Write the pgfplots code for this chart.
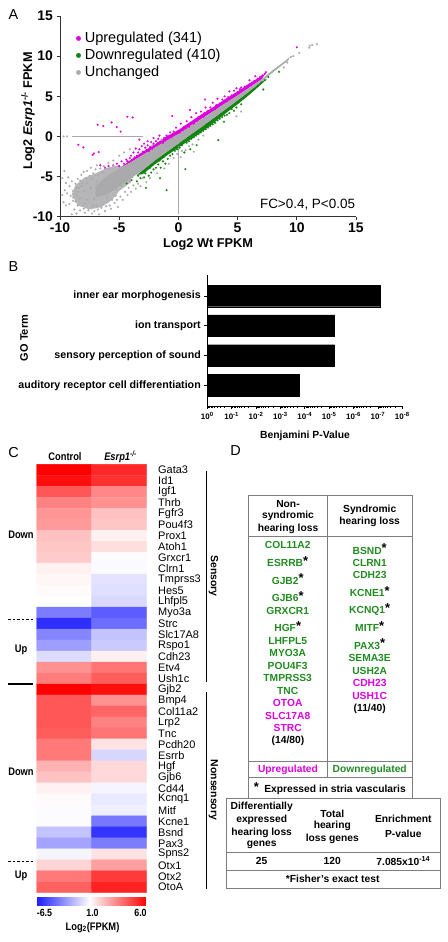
\documentclass[border=0pt]{standalone}
\usepackage{pgfplots}
\usepackage{pgfplotstable}
\usepackage{fontspec}
\setmainfont{Liberation Sans}
\pgfplotsset{compat=1.18}
\newcommand{\fs}[1]{\fontsize{#1}{#1}\selectfont}
\definecolor{mag}{RGB}{222,0,222}
\definecolor{grn}{RGB}{18,132,18}
\definecolor{gtx}{RGB}{34,139,34}
\definecolor{gry}{RGB}{170,170,173}
\definecolor{gryl}{RGB}{182,182,185}
\definecolor{tbl}{RGB}{125,125,125}
\newcommand{\st}{{\color{black}\raisebox{1.5pt}{\fs{13}*}}}

\pgfplotstableread{
x y v
0 0 6.0
1 0 5.2
0 1 5.7
1 1 5.0
0 2 4.2
1 2 3.2
0 3 3.3
1 3 3.0
0 4 2.9
1 4 2.0
0 5 2.8
1 5 1.9
0 6 2.0
1 6 1.0
0 7 1.9
1 7 1.4
0 8 1.8
1 8 0.6
0 9 1.0
1 9 0.55
0 10 0.9
1 10 -0.2
0 11 0.8
1 11 -0.3
0 12 0.7
1 12 -0.5
0 13 -3.5
1 13 -4.5
0 14 -6.0
1 14 -4.0
0 15 -3.2
1 15 -1.2
0 16 -2.4
1 16 -1.0
0 17 -0.4
1 17 1.0
0 18 3.0
1 18 3.6
0 19 3.4
1 19 4.1
0 20 6.0
1 20 5.7
0 21 4.2
1 21 3.0
0 22 4.2
1 22 3.9
0 23 4.2
1 23 3.3
0 24 4.1
1 24 3.6
0 25 3.5
1 25 1.3
0 26 3.5
1 26 -0.6
0 27 2.3
1 27 1.5
0 28 2.0
1 28 1.5
0 29 1.0
1 29 0.4
0 30 0.8
1 30 0.0
0 31 0.6
1 31 0.2
0 32 0.6
1 32 -3.6
0 33 -1.2
1 33 -5.8
0 34 -2.2
1 34 -3.5
0 35 0.4
1 35 1.3
0 36 1.6
1 36 2.7
0 37 3.5
1 37 4.8
0 38 4.0
1 38 5.3
}\heatdata

\pgfplotsset{
 colormap={hm}{[1pt] rgb255(0pt)=(30,30,255) rgb255(75pt)=(255,255,255) rgb255(130pt)=(255,0,0)},
 pt/.style={only marks,mark=*,mark size=0.95bp,color=#1,mark options={draw=#1,fill=#1,line width=0.2bp}},
}
\begin{document}
\begin{tikzpicture}
\path[use as bounding box] (0,-942bp) rectangle (448bp,0);

%% Panel A
\begin{axis}[
 at={(60bp,-216.7bp)},anchor=south west,scale only axis,width=296bp,height=200.7bp,
 xmin=-10,xmax=15,ymin=-10,ymax=15,
 axis lines=left,axis line style={-,line width=1pt,color=black!80},
 tick style={line width=1pt,color=black!80},tick align=outside,major tick length=3.5bp,
 xtick={-10,-5,0,5,10,15},ytick={-10,-5,0,5,10,15},
 xticklabels={-10,-5,0,5,10,15},yticklabels={-10,-5,0,5,10,15},
 ticklabel style={font=\fs{14}\bfseries},
 x tick label style={yshift=1bp},
 legend style={at={(16bp,186.5bp)},anchor=north west,draw=none,fill=none,font=\fs{14.6},
   row sep=1bp,inner sep=0pt},
 legend cell align=left,
 legend image post style={mark size=2.3bp},
]
\addplot[forget plot,draw=none,fill=mag] coordinates {(-5,-4)(-4,-2.9)(-3,-1.9)(-2,-1.0)(-1,0)(0,0.8)(1,1.8)(2,2.8)(3,3.7)(4,4.7)(5,5.6)(6,6.6)(7,7.5)(7.4,7.9)(7,7.1)(5,5.1)(3,3.2)(1,1.3)(0,0.3)(-2,-1.4)(-4,-3.2)} --cycle;
\addplot[forget plot,draw=none,fill=grn] coordinates {(-3.5,-4.8)(-3,-4.7)(-2,-3.5)(-1,-2.4)(0,-1.4)(1,-0.4)(2,0.6)(3,1.7)(4,2.9)(5,4.0)(6,5.2)(7,6.5)(7.5,7.2)(7,6.8)(5,4.5)(3,2.3)(1,0.2)(0,-0.9)(-2,-3.0)} --cycle;
\addplot[pt=mag] coordinates {
(-4.31,2.45)(-3.86,2.36)(-6.82,1.45)(-5.64,1.74)(-6.34,1.29)(-5.21,1.16)(-4.88,0.6)(-8.45,-1.04)(-8.03,-1.37)(-7.13,-2.12)(-6.73,-1.95)(-7.24,-2.3)(10,11.1)
(-6.6,-3.6)(-6.2,-3.9)(-5.9,-3.7)(-5.5,-3.6)(-5.2,-3.4)(-5.0,-3.7)(-4.8,-3.1)(-4.6,-3.4)(-4.4,-2.9)(-4.3,-3.1)(-4.1,-2.7)(-4.0,-2.4)(-3.9,-2.9)(-3.8,-2.0)(-3.7,-2.6)(-3.6,-1.5)(-3.5,-2.4)(-3.4,-2.0)(-3.3,-0.4)(-3.3,-1.6)(-3.2,-2.2)(-3.1,-1.2)(-3.0,-1.9)(-2.9,-0.9)(-2.9,-2.0)(-2.8,-1.4)(-2.7,-1.7)(-2.6,-0.6)(-2.6,-1.1)(-2.5,-1.8)(-2.4,-1.3)(-2.3,-0.7)(-2.2,-1.5)(-2.1,-0.9)(-2.1,-0.2)(-2,-1.2)(-1.9,-0.6)(-1.8,-1.1)(-1.7,-0.8)(-1.7,-0.3)(-1.6,0.1)(-1.5,-0.7)(-1.4,-0.4)(-1.3,-0.8)(-1.2,-0.2)(-1.1,-0.5)(-1,0.1)(-0.9,-0.3)(-0.8,0.0)(-0.7,0.5)(-0.6,-0.1)(-0.51,2.54)(-0.5,0.2)(-0.4,0.6)(-0.3,0.3)(-0.2,1.1)(-0.1,0.4)(0,0.7)(0.1,0.5)(0.2,1.6)(0.3,0.9)(0.4,0.8)(0.5,1.2)(0.6,1.0)(0.7,1.9)(0.8,1.3)(0.9,1.2)(0.98,3.3)(1,1.6)(1.1,2.4)
(1.2,1.7)(1.3,1.6)(1.4,2.0)(1.5,2.9)(1.6,2.0)(1.7,2.4)(1.8,2.2)(1.9,3.1)(2,2.5)(2.1,2.4)(2.2,2.9)(2.25,4.6)(2.3,3.6)(2.4,2.8)(2.5,3.2)(2.6,3.0)(2.7,3.6)(2.8,3.2)(2.9,4.2)(3,3.5)(3.1,3.4)(3.2,3.9)(3.3,4.7)(3.4,3.8)(3.5,4.1)(3.6,4.0)(3.7,4.6)(3.8,4.2)(3.9,5.0)(4,4.5)(4.1,4.4)(4.2,4.9)(4.3,5.6)(4.4,4.8)(4.5,5.1)(4.6,5.0)(4.7,5.7)(4.8,5.2)(4.9,6.0)(5,5.5)(5.1,5.4)(5.2,5.9)(5.3,6.1)(5.4,5.8)(5.6,6.2)(5.8,6.3)(6,6.5)(6.0,7.0)(6.2,6.7)(6.4,6.9)(6.5,7.5)(6.7,7.2)(6.9,7.4)(7.1,7.6)(7.3,7.8)(7.4,8.0)
};
\addlegendentry{\hspace{2bp}Upregulated (341)}
\addplot[pt=grn] coordinates {
(-1.0,-6.7)(0.59,-4.07)(-1.55,-5.2)(-2.74,-6.4)(3.37,-0.46)(3.85,1.83)(7.17,5.85)(8.5,8.05)(1.54,-1.08)(-4.37,-5.85)(-3.95,-5.44)(-3.5,-5.6)(-3.4,-4.9)(-3.2,-5.2)(-3.0,-4.4)(-2.9,-5.1)(-2.8,-4.6)(-2.6,-4.0)(-2.5,-4.9)(-2.4,-3.9)(-2.3,-4.5)(-2.2,-3.5)(-2.1,-4.1)(-2.0,-3.3)(-1.9,-3.9)(-1.8,-3.1)(-1.7,-3.5)(-1.6,-3.0)(-1.5,-3.9)(-1.4,-2.7)(-1.3,-3.1)(-1.2,-2.5)(-1.1,-3.4)(-1.0,-2.2)(-0.9,-2.8)(-0.8,-2.0)(-0.7,-2.4)(-0.6,-1.8)(-0.5,-2.2)(-0.4,-1.5)(-0.3,-1.8)(-0.2,-1.3)(-0.1,-1.6)(0,-1.1)(0.1,-1.4)(0.2,-0.8)(0.3,-1.1)(0.4,-0.6)(0.5,-2.0)(0.6,-0.5)(0.7,-0.8)(0.8,-0.2)(0.9,-0.6)(1,0.0)(1.0,-1.6)(1.1,-0.3)(1.2,0.2)(1.3,-0.1)(1.4,0.4)(1.5,0.1)(1.6,0.6)(1.7,0.3)(1.8,0.8)(1.9,0.5)(2,1.0)(2.1,0.7)(2.2,1.2)(2.3,0.9)(2.4,1.5)(2.5,1.1)(2.6,1.7)(2.7,1.3)(2.8,1.9)(2.9,1.5)(3,2.1)(3.1,1.7)(3.2,2.3)(3.3,2.0)(3.4,2.5)(3.5,2.2)(3.6,2.8)(3.7,2.4)(3.8,3.0)(3.9,2.6)(4,3.2)(4.1,2.7)(4.2,3.4)(4.3,2.9)(4.4,3.6)(4.5,3.4)(4.6,3.8)(4.7,3.2)(4.8,4.0)(4.9,3.6)(5,4.3)(5.2,4.5)(5.3,4.0)(5.4,4.7)(5.6,4.9)(5.8,5.2)(6,5.4)(6.2,5.7)(6.4,5.9)(6.7,6.3)(7.0,6.7)(7.3,7.0)(7.6,7.4)
};
\addlegendentry{\hspace{2bp}Downregulated (410)}
\addplot[forget plot,draw=none,fill=gryl] coordinates {(-9,-7.2)(-8.7,-6.1)(-8,-5.2)(-7,-4.6)(-6,-3.9)(-5,-3.6)(-4,-4.5)(-4,-5.7)(-5,-6.8)(-5.6,-7.9)(-6.5,-8.8)(-7.5,-9.1)(-8.5,-8.6)} --cycle;
\addplot[forget plot,draw=none,fill=gry] coordinates {(-7,-6.2)(-6,-4.9)(-5,-4)(-4,-3.2)(-3,-2.3)(-2,-1.4)(-1,-0.5)(0,0.3)(1,1.3)(2,2.2)(3,3.2)(4,4.2)(5,5.1)(6,6.1)(7,7.1)(8,8.3)(9,9.4)(9.4,9.9)(9.3,9.5)(8,8)(7,6.8)(6,5.6)(5,4.5)(4,3.4)(3,2.3)(2,1.2)(1,0.2)(0,-0.9)(-1,-1.9)(-2,-3.0)(-3,-4.2)(-4,-5.2)(-5,-6.2)(-6,-7.2)(-7,-7.6)} --cycle;
\addplot[pt=gry] coordinates {
(-9.7,0)(-9.4,0)(-9.63,-4.3)(-9.8,-5.2)(-9.5,-5.8)(-9.3,-5.1)(-9.6,-6.7)(-9.8,-7.3)(-9.4,-7.1)(-9.7,-8.2)(-9.2,-6.2)(-9.1,-7.4)(-9.5,-8.6)(-9.2,-8.4)(-9.0,-5.6)(-8.9,-6.8)(-8.9,-8.0)(-8.8,-9.1)(-8.7,-5.9)(-8.6,-7.3)(-8.5,-8.6)(-8.5,-5.3)(-8.4,-6.4)(-8.3,-7.7)(-8.3,-9.2)(-8.2,-4.8)(-8.1,-5.8)(-8.0,-9.0)(-8.0,-4.4)(-7.9,-9.5)(-7.8,-5.2)(-7.7,-4.3)(-7.6,-9.2)(-7.5,-4.9)(-7.4,-3.9)(-7.3,-9.6)(-7.2,-4.6)(-7.1,-9.3)(-7.0,-4.1)(-6.9,-3.6)(-6.8,-9.1)(-6.7,-9.7)(-6.6,-4.0)(-6.5,-8.9)(-6.3,-3.7)(-6.2,-9.3)(-6.1,-8.7)(-5.9,-3.3)(-5.8,-8.6)(-5.7,-9.0)(-5.5,-3.0)(-5.4,-8.3)(-5.2,-7.9)(-5.1,-8.8)(-5,-2.4)(-4.9,-7.5)(-4.7,-7.9)(-4.6,-2.0)(-4.5,-6.9)(-4.3,-7.3)(-4.2,-6.4)(-4.1,-1.6)(-4.0,-6.9)(-3.8,-6.1)(-3.6,-6.5)(-3.4,-5.9)(-3.2,-6.2)(-3.0,-5.2)(-2.7,-5.7)(-2.4,-5.2)(-2.2,-1.1)(-1.8,-4.6)(-1.4,-0.4)(-1.2,-4.0)(-0.8,-3.4)(-0.4,-2.7)(-0.1,-2.2)(0.2,-2.6)(0.3,-1.8)(0.6,-1.7)(0.9,-1.2)(1.2,-1.0)(1.3,-1.9)(1.7,-0.4)(2.1,0.1)(4.9,2.5)(5.3,3.1)
(-9.0,-9.7)(-7.2,-8.6)(-7.9,-8.4)(-8.6,-9.6)(-6.9,-8.6)(-6.4,-8.4)(-6.0,-8.2)(-5.6,-7.9)(-5.3,-7.4)(-8.7,-8.1)(-8.5,-6.9)(-8.2,-6.2)(-7.7,-5.8)(-7.3,-5.3)(-6.8,-4.8)(-6.4,-4.5)(-5.9,-4.0)(-5.5,-3.7)
(-8.9,-7.6)(-8.6,-6.4)(-8.3,-5.5)(-8.0,-6.8)(-7.7,-7.9)(-7.4,-6.4)(-7.1,-7.8)(-6.9,-5.6)(-6.6,-7.2)(-6.2,-6.3)(-6.0,-7.6)(-5.7,-5.4)(-5.3,-6.6)(-4.8,-6.1)(-4.4,-5.6)(-3.9,-5.1)
(10.2,10.4)(11.1,11.3)(11.3,11.4)(11.7,11.5)(11.05,11.05)(9.5,9.9)(9.7,10)(8.9,8.6)(9.2,9.2)
};
\addlegendentry{\hspace{2bp}Unchanged}
\addplot[forget plot,color=gry,line width=1.2bp] coordinates {(-9.0,0)(-3,0)};
\addplot[forget plot,color=gry,line width=1.2bp] coordinates {(0,-9.7)(0,-1)};
\end{axis}

%% Panel B
\begin{axis}[
 at={(207.3bp,-406bp)},anchor=south west,scale only axis,width=195bp,height=131bp,
 xmode=log,x dir=reverse,xmin=1e-8,xmax=1,ymin=-0.69,ymax=3.7,
 axis x line=bottom,axis y line=left,axis line style={-,line width=0.9pt},
 tick style={line width=0.7pt,color=black},tick align=outside,
 major tick length=3bp,minor tick length=1.5bp,
 xbar,bar width=21.7bp,bar shift=0pt,
 ytick={0,1,2,3},
 yticklabels={auditory receptor cell differentiation,sensory perception of sound,ion transport,inner ear morphogenesis},
 y tick label style={font=\fs{10.7}\bfseries},
 xtick={1,1e-1,1e-2,1e-3,1e-4,1e-5,1e-6,1e-7,1e-8},
 xticklabels={10\textsuperscript{0},10\textsuperscript{-1},10\textsuperscript{-2},10\textsuperscript{-3},10\textsuperscript{-4},10\textsuperscript{-5},10\textsuperscript{-6},10\textsuperscript{-7},10\textsuperscript{-8}},
 x tick label style={font=\fs{8}\bfseries},
 minor xtick={2e-1,3e-1,4e-1,5e-1,6e-1,7e-1,8e-1,9e-1,2e-2,3e-2,4e-2,5e-2,6e-2,7e-2,8e-2,9e-2,2e-3,3e-3,4e-3,5e-3,6e-3,7e-3,8e-3,9e-3,2e-4,3e-4,4e-4,5e-4,6e-4,7e-4,8e-4,9e-4,2e-5,3e-5,4e-5,5e-5,6e-5,7e-5,8e-5,9e-5,2e-6,3e-6,4e-6,5e-6,6e-6,7e-6,8e-6,9e-6,2e-7,3e-7,4e-7,5e-7,6e-7,7e-7,8e-7,9e-7,2e-8,3e-8,4e-8,5e-8,6e-8,7e-8,8e-8,9e-8},
]
\addplot[fill=black,draw=black] coordinates {(1.7e-4,0)(6e-6,1)(6e-6,2)(7.9e-8,3)};
\end{axis}

%% Panel C heat map
\begin{axis}[
 at={(36.7bp,-892.7bp)},anchor=south west,scale only axis,width=110bp,height=428.4bp,
 xmin=-0.5,xmax=1.5,ymin=-0.5,ymax=38.5,y dir=reverse,
 axis line style={draw=none},major tick length=0pt,tick style={draw=none},
 colormap name=hm,point meta min=-6.5,point meta max=6,
 xtick=\empty,
 ytick={0,...,38},
 yticklabel pos=right,
 yticklabels={Gata3,Id1,Igf1,Thrb,Fgfr3,Pou4f3,Prox1,Atoh1,Grxcr1,Clrn1,Tmprss3,Hes5,Lhfpl5,Myo3a,Strc,Slc17A8,Rspo1,Cdh23,Etv4,Ush1c,Gjb2,Bmp4,Col11a2,Lrp2,Tnc,Pcdh20,Esrrb,Hgf,Gjb6,Cd44,Kcnq1,Mitf,Kcne1,Bsnd,Pax3,Spns2,Otx1,Otx2,OtoA},
 y tick label style={font=\fs{11},anchor=west,xshift=8bp},
]
\addplot[matrix plot*,mesh/cols=2,point meta=explicit] table[x=x,y=y,meta=v]{\heatdata};
\end{axis}

%% colour bar
\begin{axis}[
 at={(36.7bp,-905bp)},anchor=south west,scale only axis,width=110bp,height=8.3bp,
 xmin=0,xmax=2,ymin=0,ymax=1,view={0}{90},
 hide axis,colormap name=hm,point meta min=-6.5,point meta max=6,
]
\addplot3[surf,shader=interp,mesh/cols=3] coordinates {
(0,0,-6.5)(1,0,1)(2,0,6)

(0,1,-6.5)(1,1,1)(2,1,6)
};
\end{axis}

%% annotations in image pixels
\begin{scope}[x=1bp,y=-1bp,every node/.style={inner sep=0pt,outer sep=0pt}]
% panel letters
\node[font=\fs{14.5}] at (13.5,14.5) {A};
\node[font=\fs{14.5}] at (13.5,267) {B};
\node[font=\fs{14.5}] at (13.5,453) {C};
\node[font=\fs{14.5}] at (235.5,451) {D};
% A
\node[font=\fs{12.7}\bfseries,rotate=90] at (28,111) {Log2 \textit{Esrp1}\textsuperscript{-/-} FPKM};
\node[font=\fs{12.8}\bfseries] at (208,244) {Log2 Wt FPKM};
\node[font=\fs{13.5},anchor=east] at (355,204.5) {FC>0.4, P<0.05};
% B
\node[font=\fs{11}\bfseries,rotate=90] at (24,338) {GO Term};
\node[font=\fs{10.4}\bfseries] at (305,435.7) {Benjamini P-Value};
% C
\begin{scope}[every node/.append style={xscale=.85,transform shape}]
\node[font=\fs{11}\bfseries] at (65,457) {Control};
\node[font=\fs{11}\bfseries\itshape] at (120.5,457) {Esrp1\textsuperscript{-/-}};
\node[font=\fs{11}\bfseries] at (21,535) {Down};
\node[font=\fs{11}\bfseries] at (21,650) {Up};
\node[font=\fs{11}\bfseries] at (21,771.7) {Down};
\node[font=\fs{11}\bfseries] at (21,876) {Up};
\node[font=\fs{10.5}\bfseries] at (44.5,912.7) {-6.5};
\node[font=\fs{10.5}\bfseries] at (92.5,912.7) {1.0};
\node[font=\fs{10.5}\bfseries] at (140.5,912.7) {6.0};
\node[font=\fs{11}\bfseries] at (92.5,927.5) {Log\textsubscript{2}(FPKM)};
\end{scope}
\draw[dash pattern=on 2.5bp off 2bp,line width=0.7bp] (8,619)--(33,619);
\draw[line width=1.2bp] (8,684)--(33,684);
\draw[dash pattern=on 2.5bp off 2bp,line width=0.7bp] (8,861)--(33,861);
\draw[line width=1bp] (206,470.7)--(206,681.7);
\draw[line width=1bp] (206,691.7)--(206,889.3);
\node[font=\fs{10.5}\bfseries,rotate=-90,xscale=1] at (213.5,576) {Sensory};
\node[font=\fs{10.5}\bfseries,rotate=-90] at (213.5,790) {Nonsensory};
% D lines
\draw[tbl,line width=0.7bp] (248.3,495) rectangle (412,798.3);
\draw[tbl,line width=0.7bp] (327.3,495)--(327.3,777);
\draw[tbl,line width=0.7bp] (248.3,536.7)--(412,536.7);
\draw[tbl,line width=0.7bp] (248.3,761)--(412,761);
\draw[tbl,line width=0.7bp] (248.3,777)--(412,777);
\draw[tbl,line width=0.7bp] (226,798.3) rectangle (440,888.3);
\draw[tbl,line width=0.7bp] (226,852.3)--(440,852.3);
\draw[tbl,line width=0.7bp] (226,870.7)--(440,870.7);
% D text
\begin{scope}[every node/.append style={font=\fs{10.3}\bfseries,color=gtx}]
\node at (287.7,545.3) {COL11A2};
\node at (287.7,561.7) {ESRRB\st};
\node at (287.7,579) {GJB2\st};
\node at (287.7,596.7) {GJB6\st};
\node at (287.7,610.7) {GRXCR1};
\node at (287.7,626.7) {HGF\st};
\node at (287.7,640.7) {LHFPL5};
\node at (287.7,653.3) {MYO3A};
\node at (287.7,665.7) {POU4F3};
\node at (287.7,678.3) {TMPRSS3};
\node at (287.7,690.7) {TNC};
\node[color=mag] at (287.7,703.3) {OTOA};
\node[color=mag] at (287.7,716) {SLC17A8};
\node[color=mag] at (287.7,728.3) {STRC};
\node[color=black] at (288,741) {(14/80)};
\node at (369.7,549.3) {BSND\st};
\node at (369.7,562.7) {CLRN1};
\node at (369.7,575.3) {CDH23};
\node at (369.7,591.7) {KCNE1\st};
\node at (369.7,609.3) {KCNQ1\st};
\node at (369.7,626.7) {MITF\st};
\node at (369.7,644.3) {PAX3\st};
\node at (369.7,658.3) {SEMA3E};
\node at (369.7,670.7) {USH2A};
\node[color=mag] at (369.7,683.3) {CDH23};
\node[color=mag] at (369.7,696) {USH1C};
\node[color=black] at (369.7,708.7) {(11/40)};
\node[color=mag] at (288,770) {Upregulated};
\node at (369.7,770) {Downregulated};
\end{scope}
\begin{scope}[every node/.append style={font=\fs{10.3}\bfseries}]
\node at (288,504) {Non-};
\node at (288,516.3) {syndromic};
\node at (288,529) {hearing loss};
\node at (369.7,510.3) {Syndromic};
\node at (369.7,522.3) {hearing loss};
\node[font=\fs{13}\bfseries] at (256.5,787) {*};
\node at (335,790.3) {Expressed in stria vascularis};
\node at (261.7,807.3) {Differentially};
\node at (261.7,820) {expressed};
\node at (261.7,832.7) {hearing loss};
\node at (261.7,845.3) {genes};
\node at (332.3,813.7) {Total};
\node at (332.3,826.3) {hearing};
\node at (332.3,839) {loss genes};
\node at (403.3,819) {Enrichment};
\node at (403.3,834) {P-value};
\node at (261.7,861.3) {25};
\node at (332.3,861.3) {120};
\node at (403.3,861.3) {7.085x10\textsuperscript{-14}};
\node at (332.7,879.3) {*Fisher's exact test};
\end{scope}
\end{scope}
\end{tikzpicture}
\end{document}
